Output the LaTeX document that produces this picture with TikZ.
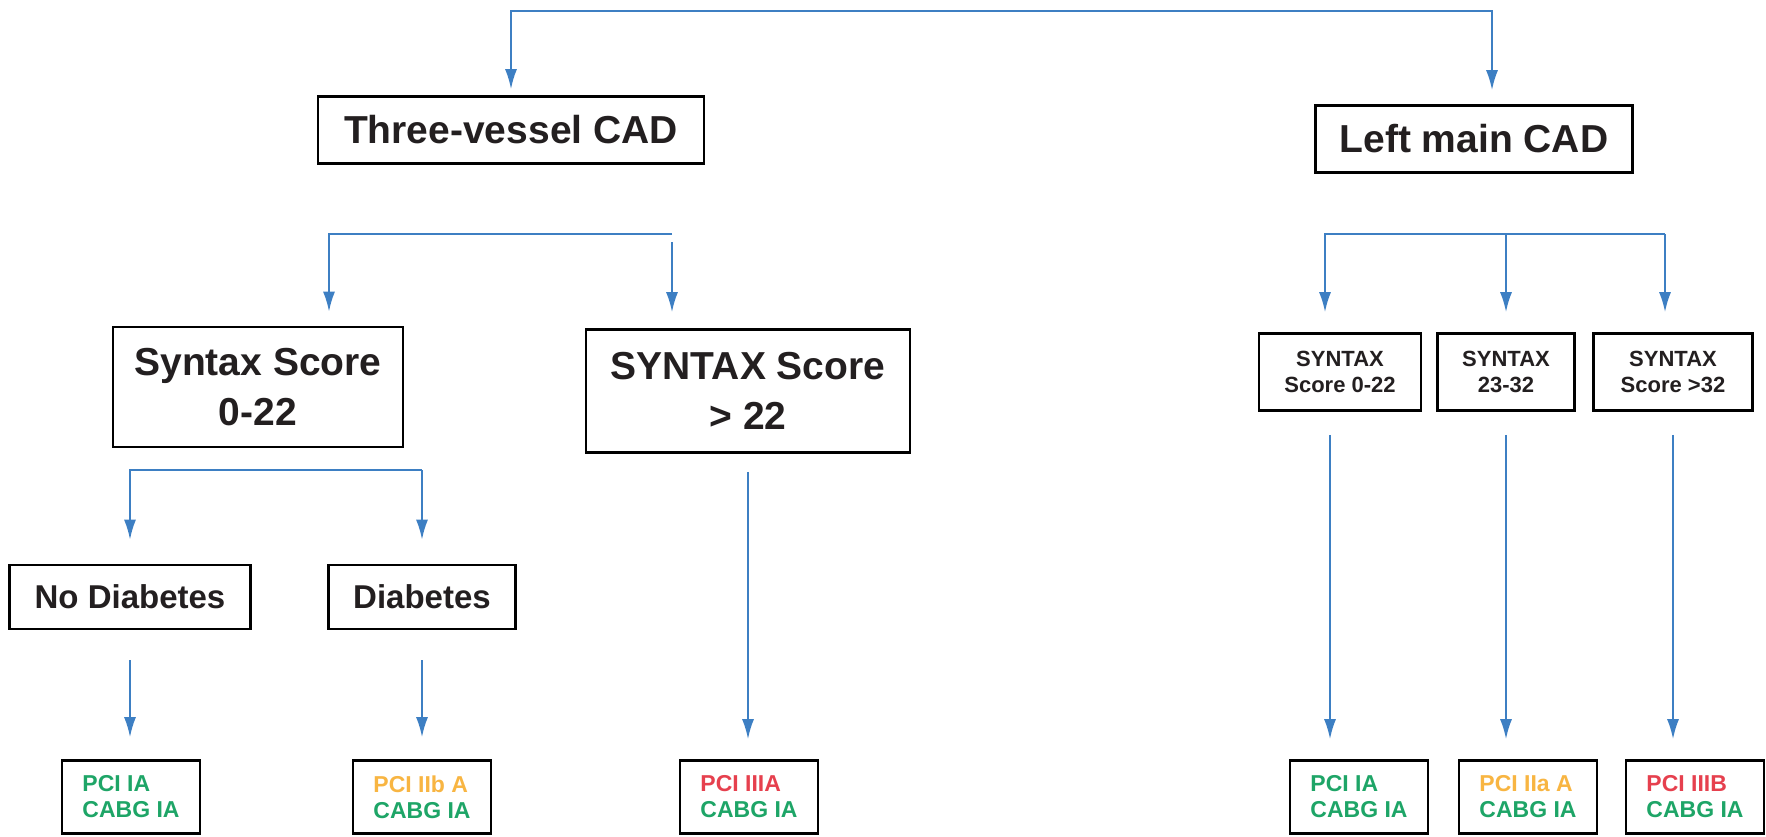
\documentclass[tikz,border=0pt]{standalone}
\usepackage{fontspec}
\setmainfont{Liberation Sans}
\usepackage{xcolor}
\usepackage{tikz}
\usetikzlibrary{arrows.meta,positioning}
\definecolor{arrowblue}{HTML}{3D7FC3}
\definecolor{boxtext}{HTML}{231F20}
\definecolor{green}{HTML}{1EA567}
\definecolor{orange}{HTML}{F8B542}
\definecolor{red}{HTML}{E6404E}

\begin{document}
\begin{tikzpicture}[
  x=0.5pt,y=-0.5pt,
  bigbox/.style={draw=black,line width=1.3pt,fill=white,align=center,text=boxtext,inner sep=0pt,font=\fontsize{19.5}{25}\selectfont\bfseries},
  midbox/.style={bigbox,font=\fontsize{16.5}{20}\selectfont\bfseries,minimum height=32pt},
  smallbox/.style={bigbox,font=\fontsize{11}{13}\selectfont\bfseries,minimum height=38.5pt},
  resbox/.style={draw=black,line width=1.3pt,fill=white,align=left,inner sep=0pt,minimum width=69pt,minimum height=36.5pt,font=\fontsize{11.5}{13}\selectfont\bfseries},
  arr/.style={-{Latex[length=10pt,width=6pt]},line width=1pt,draw=arrowblue}
]
\useasboundingbox (0,0) rectangle (1766,836);
% three-vessel branch
\node[bigbox,minimum width=193pt,minimum height=33.5pt] (tvcad) at (511,130) {Three-vessel CAD};
\node[bigbox,minimum width=145pt,minimum height=60pt] (ss1) at (258,387) {Syntax Score\\0-22};
\node[bigbox,minimum width=162pt,minimum height=61.5pt] (ss2) at (748,391) {SYNTAX Score\\> 22};
\node[midbox,minimum width=120.5pt] (nodiab) at (130,597) {No Diabetes};
\node[midbox,minimum width=93.5pt] (diab) at (422,597) {Diabetes};
\node[resbox] (tvpci1) at (131,797) {\textcolor{green}{PCI IA}\\\textcolor{green}{CABG IA}};
\node[resbox] (tvpci2) at (422,797) {\textcolor{orange}{PCI IIb A}\\\textcolor{green}{CABG IA}};
\node[resbox] (tvpci3) at (749,797) {\textcolor{red}{PCI IIIA}\\\textcolor{green}{CABG IA}};
% left main branch
\node[bigbox,minimum width=158.5pt,minimum height=33.5pt] (lmcad) at (1474,139) {Left main CAD};
\node[smallbox,minimum width=81pt] (ls1) at (1340,372) {SYNTAX\\Score 0-22};
\node[smallbox,minimum width=68.5pt] (ls2) at (1506,372) {SYNTAX\\23-32};
\node[smallbox,minimum width=79.5pt] (ls3) at (1673,372) {SYNTAX\\Score >32};
\node[resbox] (lpci1) at (1359,797) {\textcolor{green}{PCI IA}\\\textcolor{green}{CABG IA}};
\node[resbox] (lpci2) at (1528,797) {\textcolor{orange}{PCI IIa A}\\\textcolor{green}{CABG IA}};
\node[resbox] (lpci3) at (1695,797) {\textcolor{red}{PCI IIIB}\\\textcolor{green}{CABG IA}};
% bars
\coordinate (topbar) at (1000,11);
\coordinate (tvbar) at (672,234);
\coordinate (ssbar) at (422,470);
\coordinate (lmbar) at (1665,234);
% connectors
\draw[arr,shorten >=3pt] (topbar) -| (tvcad.north);
\draw[arr,shorten >=7pt] (topbar) -| ([xshift=9pt]lmcad.north);
\draw[arr,shorten >=7pt] (tvbar) -| ([xshift=35.5pt]ss1.north);
\draw[arr,shorten <=4pt,shorten >=8pt] (tvbar) -- ([xshift=-38pt]ss2.north);
\draw[arr,shorten >=12pt] (ssbar) -| (nodiab.north);
\draw[arr,shorten >=12pt] (ssbar) -- (diab.north);
\draw[arr,shorten <=15pt,shorten >=11pt] (nodiab.south) -- (nodiab.south |- tvpci1.north);
\draw[arr,shorten <=15pt,shorten >=11pt] (diab.south) -- (diab.south |- tvpci2.north);
\draw[arr,shorten <=9pt,shorten >=10pt] (ss2.south) -- (ss2.south |- tvpci3.north);
\draw[arr,shorten >=10pt] (lmbar) -| ([xshift=-7.5pt]ls1.north);
\draw[arr,shorten >=10pt] (lmbar) -| (ls2.north);
\draw[arr,shorten >=10pt] (lmbar) -- ([xshift=-4pt]ls3.north);
\draw[arr,shorten <=11.5pt,shorten >=10pt] ([xshift=-5pt]ls1.south) -- ([xshift=-5pt]ls1.south |- lpci1.north);
\draw[arr,shorten <=11.5pt,shorten >=10pt] (ls2.south) -- (ls2.south |- lpci2.north);
\draw[arr,shorten <=11.5pt,shorten >=10pt] (ls3.south) -- (ls3.south |- lpci3.north);
\end{tikzpicture}
\end{document}
